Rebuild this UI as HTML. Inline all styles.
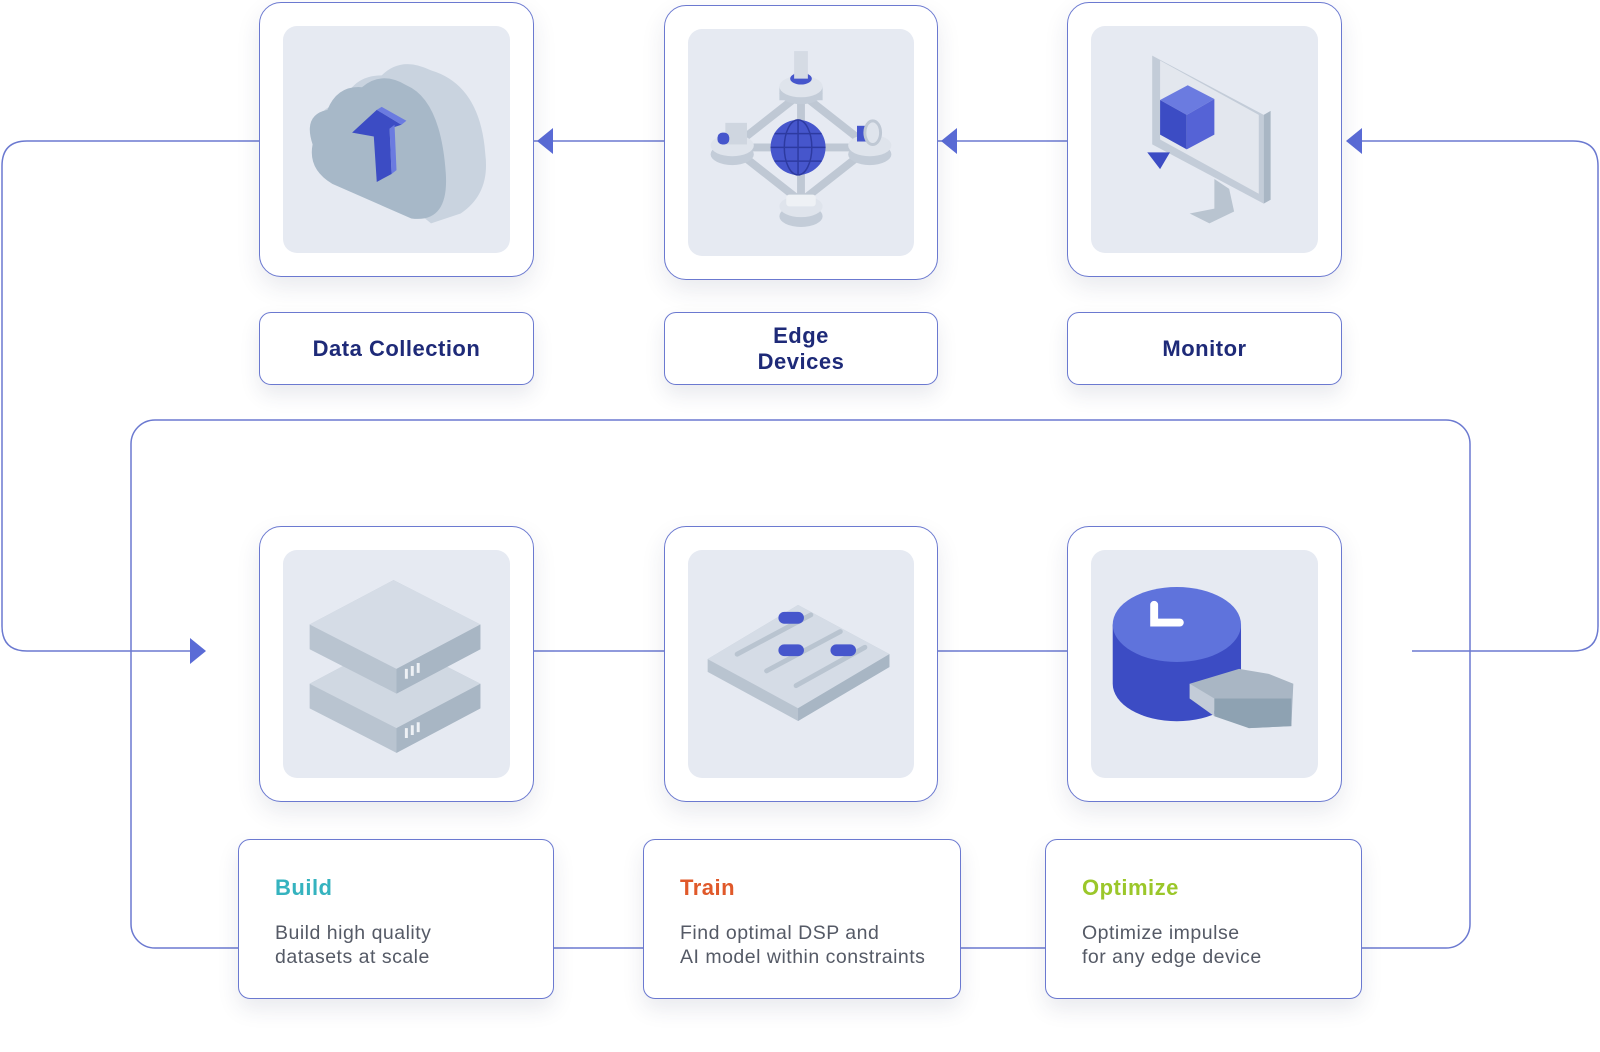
<!DOCTYPE html>
<html><head><meta charset="utf-8"><style>
body{margin:0;width:1600px;height:1052px;background:#fff;position:relative;overflow:hidden;font-family:"Liberation Sans",sans-serif}
.b{position:absolute;background:#fff;border:1.5px solid #6b79d0;border-radius:22px;box-shadow:0 10px 24px rgba(40,50,90,0.10);box-sizing:border-box}
.in{position:absolute;left:23px;top:23px;right:23px;bottom:23px;background:#e6eaf2;border-radius:14px;overflow:hidden}
.in svg{width:100%;height:100%}
.lbl{position:absolute;border:1.5px solid #6b79d0;border-radius:12px;background:#fff;box-shadow:0 10px 20px rgba(40,50,90,0.10);box-sizing:border-box;display:flex;align-items:center;justify-content:center;text-align:center;color:#1e2a78;font-weight:bold;font-size:22px;line-height:26px;letter-spacing:0.5px}
.tb{position:absolute;border:1.5px solid #6b79d0;border-radius:12px;background:#fff;box-shadow:0 10px 22px rgba(40,50,90,0.10);box-sizing:border-box;padding:35px 0 0 36px}
.tb h3{margin:0;font-size:22px;font-weight:bold;letter-spacing:0.5px}
.tb p{margin:20px 0 0;font-size:19.5px;line-height:24px;color:#555a66;letter-spacing:0.5px}
</style></head><body>
<svg style="position:absolute;left:0;top:0" width="1600" height="1052">
<g fill="none" stroke="#6b79d0" stroke-width="1.5">
<rect x="131" y="420" width="1339" height="528" rx="24"/>
<path d="M259 141 H27 Q2 141 2 166 V626 Q2 651 27 651 H192"/>
<path d="M1412 651 H1573 Q1598 651 1598 626 V166 Q1598 141 1573 141 H1350"/>
<path d="M534 141 H664 M938 141 H1067 M534 651 H664 M938 651 H1067"/>
</g>
<g fill="#5a6bd6">
<path d="M190 638 L206 651 L190 664Z"/>
<path d="M553 128 L537 141 L553 154Z"/>
<path d="M957 128 L941 141 L957 154Z"/>
<path d="M1362 128 L1346 141 L1362 154Z"/>
</g>
</svg>

<div class="b" style="left:259px;top:2px;width:275px;height:275px"><div class="in"><svg viewBox="0 0 230 230">
<path d="M40 110 Q30 80 60 80 Q70 50 100 50 Q120 30 150 45 Q200 60 205 130 Q210 170 180 190 L150 200 Z" fill="#c9d3df"/>
<path d="M30 120 Q20 90 45 85 Q55 60 80 62 Q100 45 125 60 Q160 75 165 150 Q168 200 130 195 L50 160 Q25 145 30 120Z" fill="#a7b8c8"/>
<path d="M70 108 L95 85 L120 100 L108 104 L110 150 L95 158 L92 112Z" fill="#3c4cc4"/>
<path d="M95 85 L120 100 L125 96 L100 82Z" fill="#6b7be0"/>
<path d="M110 150 L115 146 L113 100 L108 104Z" fill="#6b7be0"/>
</svg></div></div>
<div class="b" style="left:664px;top:5px;width:274px;height:275px"><div class="in"><svg viewBox="0 0 230 230">
<g stroke="#bfc8d4" stroke-width="8" fill="none"><path d="M115 65 L45 120 L115 175 L185 120Z M115 65 V175 M45 120 H185"/></g>
<ellipse cx="115" cy="65" rx="22" ry="11" fill="#c3ccd8"/><rect x="93" y="58" width="44" height="14" fill="#c3ccd8"/><ellipse cx="115" cy="58" rx="22" ry="11" fill="#dfe4ec"/>
<ellipse cx="115" cy="50" rx="11" ry="6" fill="#4656cc"/><rect x="108" y="22" width="14" height="28" fill="#d5dbe4"/>
<ellipse cx="45" cy="127" rx="22" ry="11" fill="#c3ccd8"/><ellipse cx="45" cy="118" rx="22" ry="11" fill="#dfe4ec"/><rect x="38" y="95" width="22" height="22" fill="#cfd6e0"/><rect x="30" y="105" width="12" height="12" rx="5" fill="#4656cc"/>
<ellipse cx="185" cy="127" rx="22" ry="11" fill="#c3ccd8"/><ellipse cx="185" cy="118" rx="22" ry="11" fill="#dfe4ec"/><rect x="172" y="98" width="10" height="16" fill="#4656cc"/><ellipse cx="188" cy="105" rx="8" ry="12" fill="#dfe4ec" stroke="#bfc8d4" stroke-width="3"/>
<ellipse cx="115" cy="190" rx="22" ry="11" fill="#c3ccd8"/><ellipse cx="115" cy="180" rx="22" ry="11" fill="#dfe4ec"/><rect x="100" y="168" width="30" height="12" rx="3" fill="#eef1f5"/>
<circle cx="112" cy="120" r="28" fill="#4656cc"/><g stroke="#2d3aa0" stroke-width="1.5" fill="none"><ellipse cx="112" cy="120" rx="14" ry="28"/><path d="M84 120 H140 M88 106 H136 M88 134 H136 M112 92 V148"/></g>
</svg></div></div>
<div class="b" style="left:1067px;top:2px;width:275px;height:275px"><div class="in"><svg viewBox="0 0 230 230">
<path d="M62 30 L175 90 L175 180 L62 120Z" fill="#c3ccd8"/><path d="M70 35 L170 90 L170 170 L70 115Z" fill="#e3e7ee"/>
<path d="M175 90 L182 86 L182 176 L175 180Z" fill="#a9b6c4"/>
<path d="M125 155 L125 185 L100 190 L120 200 L145 188 L140 165Z" fill="#b9c4d0"/>
<path d="M70 75 L98 60 L125 74 L97 90Z" fill="#6b7be0"/><path d="M70 75 L97 90 L97 125 L70 110Z" fill="#3c4cc4"/><path d="M97 90 L125 74 L125 110 L97 125Z" fill="#5563d6"/>
<path d="M57 128 L80 128 L70 145Z" fill="#3c4cc4"/>
</svg></div></div>

<div class="lbl" style="left:259px;top:312px;width:275px;height:73px">Data Collection</div>
<div class="lbl" style="left:664px;top:312px;width:274px;height:73px">Edge<br>Devices</div>
<div class="lbl" style="left:1067px;top:312px;width:275px;height:73px">Monitor</div>

<div class="b" style="left:259px;top:526px;width:275px;height:276px"><div class="in"><svg viewBox="0 0 230 230">
<path d="M27 135 L112 90 L200 135 L200 160 L115 205 L27 160Z" fill="#b9c4d0"/><path d="M27 135 L115 180 L200 135 L112 90Z" fill="#d0d8e2"/><path d="M115 180 L200 135 L200 160 L115 205Z" fill="#a8b6c4"/>
<path d="M27 75 L112 30 L200 75 L200 100 L115 145 L27 100Z" fill="#b9c4d0"/><path d="M27 75 L115 120 L200 75 L112 30Z" fill="#d5dce6"/><path d="M115 120 L200 75 L200 100 L115 145Z" fill="#a8b6c4"/>
<g stroke="#eef1f5" stroke-width="3"><path d="M125 130 v-10 M131 127 v-10 M137 124 v-10 M125 190 v-10 M131 187 v-10 M137 184 v-10"/></g>
</svg></div></div>
<div class="b" style="left:664px;top:526px;width:274px;height:276px"><div class="in"><svg viewBox="0 0 230 230">
<path d="M20 110 L112 55 L205 105 L205 118 L112 173 L20 123Z" fill="#b9c4d0"/><path d="M20 110 L112 160 L205 105 L112 55Z" fill="#d5dce6"/><path d="M112 160 L205 105 L205 118 L112 173Z" fill="#a8b6c4"/>
<g stroke="#b9c4d0" stroke-width="5" stroke-linecap="round"><path d="M50 105 L125 65 M80 122 L155 82 M110 137 L180 98"/></g>
<g fill="#4656cc"><rect x="92" y="62" width="26" height="12" rx="6"/><rect x="92" y="95" width="26" height="12" rx="6"/><rect x="145" y="95" width="26" height="12" rx="6"/></g>
</svg></div></div>
<div class="b" style="left:1067px;top:526px;width:275px;height:276px"><div class="in"><svg viewBox="0 0 230 230">
<path d="M22 75 V135 A65 38 0 0 0 152 135 V75Z" fill="#3c4cc4"/>
<ellipse cx="87" cy="75" rx="65" ry="38" fill="#5f73dc"/>
<path d="M64 55 V73 H90" stroke="#fff" stroke-width="8" fill="none" stroke-linecap="round"/>
<path d="M100 135 L150 120 L180 125 L205 135 L203 178 L160 180 L100 150Z" fill="#a9b6c4"/><path d="M100 135 L125 150 L125 168 L100 150Z" fill="#c3ccd8"/><path d="M125 150 L203 150 L203 178 L160 180 L125 168Z" fill="#8ea2b2"/>
</svg></div></div>

<div class="tb" style="left:238px;top:839px;width:316px;height:160px"><h3 style="color:#35b3bf">Build</h3><p>Build high quality<br>datasets at scale</p></div>
<div class="tb" style="left:643px;top:839px;width:318px;height:160px"><h3 style="color:#e0592a">Train</h3><p>Find optimal DSP and<br>AI model within constraints</p></div>
<div class="tb" style="left:1045px;top:839px;width:317px;height:160px"><h3 style="color:#9bc72a">Optimize</h3><p>Optimize impulse<br>for any edge device</p></div>
</body></html>
